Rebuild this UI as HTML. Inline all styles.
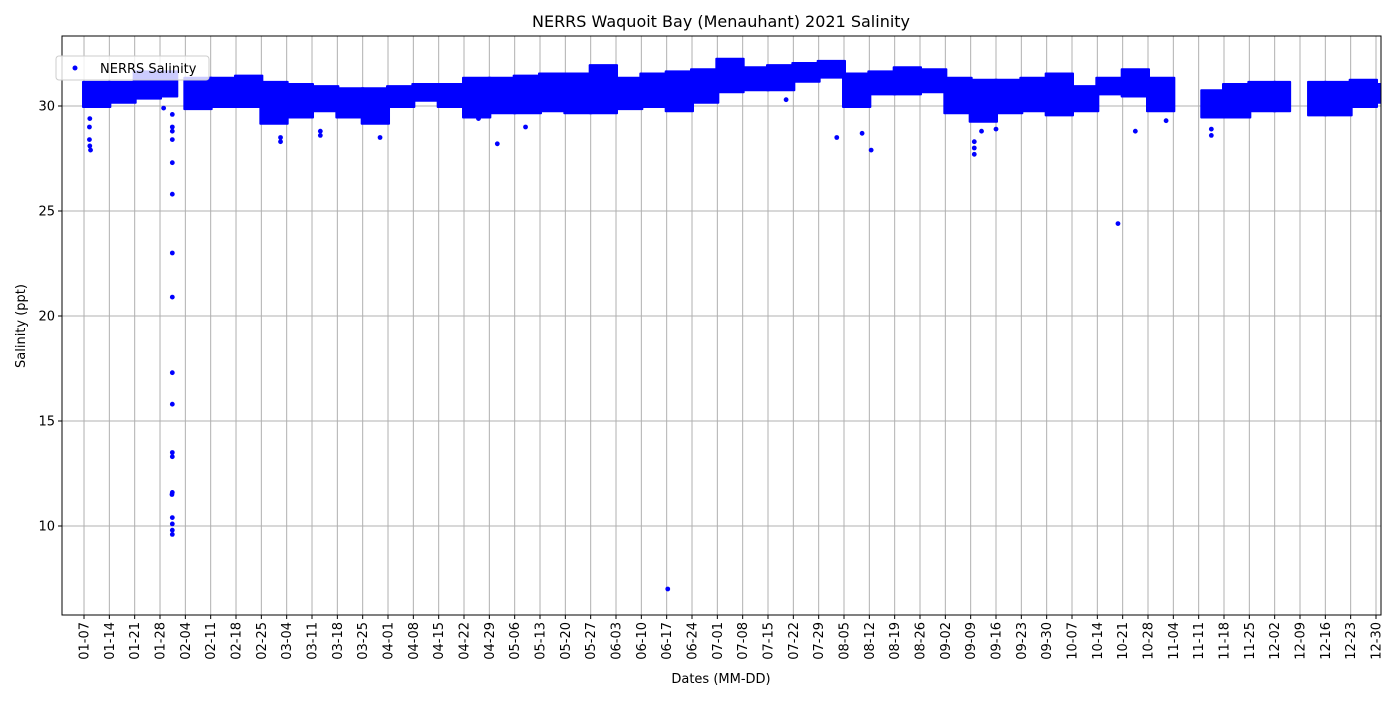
<!DOCTYPE html>
<html><head><meta charset="utf-8"><style>
body{margin:0;background:#fff;}
text{font-family:"DejaVu Sans","Liberation Sans",sans-serif;fill:#000;}
</style></head><body>
<svg id="chart" width="1400" height="700" xmlns="http://www.w3.org/2000/svg">
<defs><clipPath id="plotclip"><rect x="62" y="36" width="1319" height="579"/></clipPath></defs>
<rect width="1400" height="700" fill="#fff"/>
<text x="721" y="27" font-size="16" text-anchor="middle">NERRS Waquoit Bay (Menauhant) 2021 Salinity</text>
<g id="grid"></g>
<g id="data" clip-path="url(#plotclip)"></g>
<rect x="62" y="36" width="1319" height="579" fill="none" stroke="#000" stroke-width="1"/>
<g id="axes"></g>
<text x="721" y="683" font-size="13" text-anchor="middle">Dates (MM-DD)</text>
<text transform="translate(25,326) rotate(-90)" font-size="13" text-anchor="middle">Salinity (ppt)</text>
<g>
<rect x="56" y="56" width="153" height="24" fill="#fff" fill-opacity="0.8" stroke="#ccc" rx="3"/>
<circle cx="75" cy="68" r="2.5" fill="#0000ff"/>
<text x="100" y="73" font-size="13">NERRS Salinity</text>
</g>
</svg>
<script>
const tickLabels=["01-07","01-14","01-21","01-28","02-04","02-11","02-18","02-25","03-04","03-11","03-18","03-25","04-01","04-08","04-15","04-22","04-29","05-06","05-13","05-20","05-27","06-03","06-10","06-17","06-24","07-01","07-08","07-15","07-22","07-29","08-05","08-12","08-19","08-26","09-02","09-09","09-16","09-23","09-30","10-07","10-14","10-21","10-28","11-04","11-11","11-18","11-25","12-02","12-09","12-16","12-23","12-30"];
const yTicks=[10,15,20,25,30];
const segStart=[6,13,20,27,34,41,48,55,62,69,76,83,90,97,104,111,118,125,132,139,146,153,160,167,174,181,188,195,202,209,216,223,230,237,244,251,258,265,272,279,286,293,300,315,321,328,335,344.5,349,356,363];
const segEnd=[13,20,27,31.5,41,48,55,62,69,76,83,90,97,104,111,118,125,132,139,146,153,160,167,174,181,188,195,202,209,216,223,230,237,244,251,258,265,272,279,286,293,300,307,321,328,335,339,349,356,363,364.8];
const segHi=[31.1,31.1,31.6,31.6,31.3,31.3,31.4,31.1,31.0,30.9,30.8,30.8,30.9,31.0,31.0,31.3,31.3,31.4,31.5,31.5,31.9,31.3,31.5,31.6,31.7,32.2,31.8,31.9,32.0,32.1,31.5,31.6,31.8,31.7,31.3,31.2,31.2,31.3,31.5,30.9,31.3,31.7,31.3,30.7,31.0,31.1,31.1,31.1,31.1,31.2,31.0];
const segLo=[30.0,30.2,30.4,30.5,29.9,30.0,30.0,29.2,29.5,29.8,29.5,29.2,30.0,30.3,30.0,29.5,29.7,29.7,29.8,29.7,29.7,29.9,30.0,29.8,30.2,30.7,30.8,30.8,31.2,31.4,30.0,30.6,30.6,30.7,29.7,29.3,29.7,29.8,29.6,29.8,30.6,30.5,29.8,29.5,29.5,29.8,29.8,29.6,29.6,30.0,30.2];
const outDay=[7.5,7.6,7.8,7.5,7.6,30.4,30.4,30.4,30.4,30.4,30.4,30.4,30.4,30.4,30.4,30.4,30.4,30.4,30.3,30.4,30.4,30.4,30.4,167.3,120.2,214,221,223.5,291.7,252,252,252,60.3,60.3,71.3,71.3,87.8,317.5,317.5,296.5,28,115,128,200,254,258,305];
const outVal=[28.4,28.1,27.9,29.0,29.4,29.6,29.0,28.8,28.4,27.3,25.8,23.0,20.9,17.3,15.8,13.5,13.3,11.6,11.5,10.4,10.1,9.8,9.6,7.0,28.2,28.5,28.7,27.9,24.4,28.3,28.0,27.7,28.5,28.3,28.6,28.8,28.5,28.6,28.9,28.8,29.9,29.4,29.0,30.3,28.8,28.9,29.3];
const NS="http://www.w3.org/2000/svg";
const X0=62.3,PXD=3.619;
function xs(d){return X0+d*PXD;}
function ys(v){return 106+(30-v)*21;}
function mk(tag,attrs,parent){const e=document.createElementNS(NS,tag);for(const k in attrs)e.setAttribute(k,attrs[k]);parent.appendChild(e);return e;}
const grid=document.getElementById('grid'),axes=document.getElementById('axes'),data=document.getElementById('data');
tickLabels.forEach((t,i)=>{
  const x=xs(6+7*i);
  const gl=mk('line',{x1:x,x2:x,y1:36,y2:615,stroke:'#b0b0b0','stroke-width':1},grid);
  
  
  mk('line',{x1:x,x2:x,y1:615,y2:619,stroke:'#000'},axes);
  const tx=mk('text',{transform:`translate(${x+4.5},622) rotate(-90)`,'font-size':13,'text-anchor':'end'},axes);
  tx.textContent=t;
  
  
});
yTicks.forEach(v=>{
  const y=ys(v);
  const gl=mk('line',{x1:62,x2:1381,y1:y,y2:y,stroke:'#b0b0b0','stroke-width':1},grid);
  
  
  mk('line',{x1:58,x2:62,y1:y,y2:y,stroke:'#000'},axes);
  const tx=mk('text',{x:55,y:y+4.5,'font-size':13,'text-anchor':'end'},axes);
  tx.textContent=v;
  
  
});
segStart.forEach((s,i)=>{
  const x1=xs(s),x2=xs(segEnd[i]);
  const y1=ys(segHi[i]),y2=ys(segLo[i]);
  const r=mk('rect',{x:x1-2,y:y1-2,width:x2-x1+4,height:y2-y1+4,fill:'#0000ff',rx:1},data);
  
  
});
outDay.forEach((d,i)=>{
  const c=mk('circle',{cx:xs(d),cy:ys(outVal[i]),r:2.4,fill:'#0000ff'},data);
  
  
});
</script>
</body></html>
